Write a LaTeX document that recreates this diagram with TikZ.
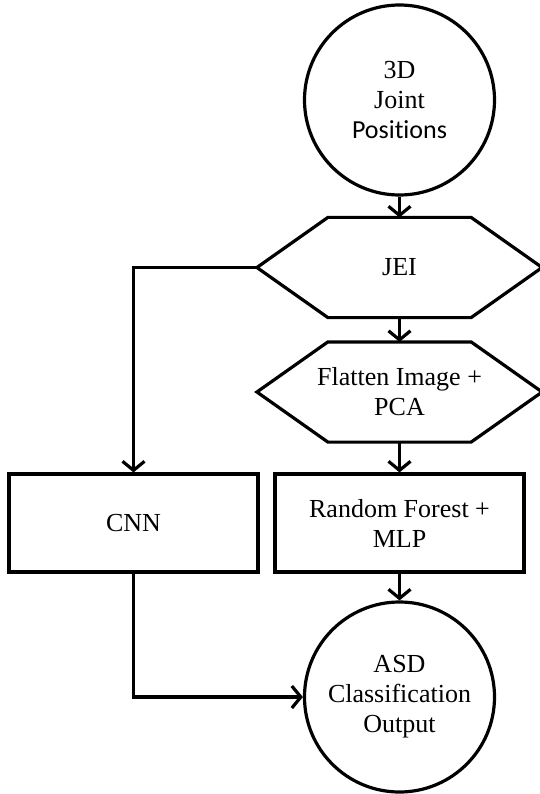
\documentclass[tikz,border=0pt]{standalone}
\usepackage{fontspec}
\setmainfont{Liberation Serif}
\newfontfamily\calib[Ligatures=NoCommon]{Carlito}
\usetikzlibrary{arrows.meta,calc}
\newcommand\drawhex[1]{%
  \draw[line join=miter] (#1.west) -- ($(#1.north west)+(71,0)$) -- ($(#1.north east)+(-71,0)$) -- (#1.east) -- ($(#1.south east)+(-71,0)$) -- ($(#1.south west)+(71,0)$) -- cycle;}
\begin{document}
\begin{tikzpicture}[x=1pt,y=-1pt, line width=3.2pt,
  every node/.style={font=\fontsize{26}{30}\selectfont, align=center, inner sep=0pt},
  circ/.style={draw, circle, minimum size=190pt},
  boxnode/.style={draw, rectangle, minimum width=249pt, minimum height=98pt},
  hexnode/.style={rectangle, minimum width=282pt, minimum height=97pt},
  arr/.style={-{Straight Barb[length=9pt,width=22pt]}},
]
\useasboundingbox (0,0) rectangle (540,794);
\node[circ] (src) at (399.5,100) {3D\\Joint\\{\calib Positions}};
\node[hexnode] (jei) at (399.5,267.5) {JEI};
\drawhex{jei}
\node[hexnode] (flat) at (399.5,392) {Flatten Image +\\PCA};
\drawhex{flat}
\node[boxnode] (cnn) at (133.5,523) {CNN};
\node[boxnode] (rf) at (399.5,523) {Random Forest +\\MLP};
\node[circ] (out) at (399.5,697) {ASD\\Classification\\Output};
\draw[arr] (src) -- (jei.north);
\draw[arr] (jei.south) -- (flat.north);
\draw[arr] (flat.south) -- (rf.north);
\draw[arr] (rf.south) -- (out.north);
\draw[arr] (jei.west) -| (cnn.north);
\draw[arr] (cnn.south) |- (out.west);
\end{tikzpicture}
\end{document}
